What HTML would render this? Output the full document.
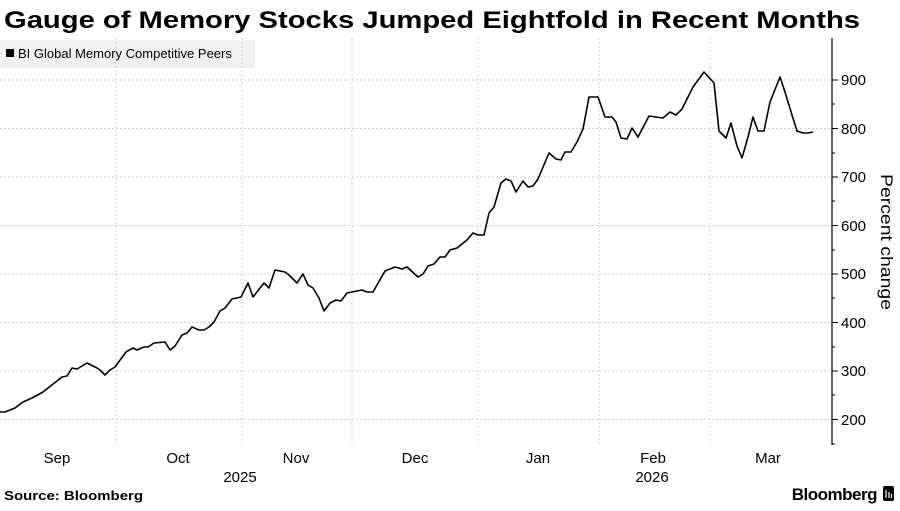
<!DOCTYPE html>
<html><head><meta charset="utf-8"><style>
body{margin:0;width:900px;height:506px;background:#fff;overflow:hidden;font-family:"Liberation Sans",sans-serif}
</style></head><body>
<svg width="900" height="506" xmlns="http://www.w3.org/2000/svg" font-family="Liberation Sans, sans-serif">
<text x="4" y="28" font-size="24" font-weight="bold" fill="#000" textLength="856" lengthAdjust="spacingAndGlyphs">Gauge of Memory Stocks Jumped Eightfold in Recent Months</text>
<rect x="0" y="40" width="255" height="28" fill="#f0f0f0"/>
<rect x="6" y="49" width="8" height="8" fill="#000"/>
<text x="18" y="58" font-size="13" fill="#000">BI Global Memory Competitive Peers</text>
<g stroke="#ccc" stroke-dasharray="2,2" stroke-width="1">
<line x1="0" y1="80" x2="832" y2="80"/><line x1="0" y1="128.5" x2="832" y2="128.5"/>
<line x1="0" y1="177" x2="832" y2="177"/><line x1="0" y1="225.5" x2="832" y2="225.5"/>
<line x1="0" y1="274" x2="832" y2="274"/><line x1="0" y1="322.5" x2="832" y2="322.5"/>
<line x1="0" y1="371" x2="832" y2="371"/><line x1="0" y1="419.5" x2="832" y2="419.5"/>
<line x1="116" y1="38" x2="116" y2="445"/><line x1="242" y1="38" x2="242" y2="445"/>
<line x1="352" y1="38" x2="352" y2="445"/><line x1="478" y1="38" x2="478" y2="445"/>
<line x1="599" y1="38" x2="599" y2="445"/><line x1="710" y1="38" x2="710" y2="445"/>
</g>
<line x1="832" y1="38" x2="832" y2="445" stroke="#000" stroke-width="1.2"/>
<g stroke="#000" stroke-width="1">
<line x1="832" y1="80" x2="838" y2="80"/><line x1="832" y1="128.5" x2="838" y2="128.5"/><line x1="832" y1="177" x2="838" y2="177"/><line x1="832" y1="225.5" x2="838" y2="225.5"/><line x1="832" y1="274" x2="838" y2="274"/><line x1="832" y1="322.5" x2="838" y2="322.5"/><line x1="832" y1="371" x2="838" y2="371"/><line x1="832" y1="419.5" x2="838" y2="419.5"/>
<line x1="832" y1="104" x2="835" y2="104"/><line x1="832" y1="153" x2="835" y2="153"/><line x1="832" y1="201" x2="835" y2="201"/><line x1="832" y1="250" x2="835" y2="250"/><line x1="832" y1="298" x2="835" y2="298"/><line x1="832" y1="347" x2="835" y2="347"/><line x1="832" y1="395" x2="835" y2="395"/><line x1="832" y1="444" x2="835" y2="444"/>
</g>
<g font-size="15" fill="#000">
<text x="841" y="85">900</text><text x="841" y="134">800</text><text x="841" y="182">700</text><text x="841" y="231">600</text><text x="841" y="279">500</text><text x="841" y="328">400</text><text x="841" y="376">300</text><text x="841" y="425">200</text>
</g>
<text transform="translate(881,174) rotate(90)" font-size="17" fill="#000" textLength="136" lengthAdjust="spacingAndGlyphs">Percent change</text>
<polyline fill="none" stroke="#000" stroke-width="1.6" stroke-linejoin="round" points="0,412 5,412 15,408 23,402 32,398 43,392 62,377 67,376 72,368 77,369 87,363 97,368 100,370 105,375 110,370 115,367 126,352 133,348 137,350 144,347 148,347 154,343 165,342 170,350 175,346 182,335 187,333 192,327 199,330 204,330 209,327 214,322 220,311 225,308 232,299 241,297 248,283 253,297 264,283 269,288 275,270 285,272 289,275 297,283 303,274 308,285 313,288 319,298 324,311 330,303 336,300 341,301 347,293 362,290 367,292 373,292 385,271 395,267 402,269 407,267 418,277 423,274 428,266 434,264 440,257 445,257 450,250 457,248 467,240 473,233 478,235 484,235 489,213 494,207 501,183 506,179 511,181 516,192 523,181 528,187 533,186 538,179 549,153 556,159 561,160 565,152 571,152 577,142 583,129 589,97 598,97 605,117 612,117 616,122 621,138 627,139 632,128 638,137 649,116 663,118 670,112 676,115 682,109 693,87 704,72 714,83 719,131 726,138 731,123 737,146 742,158 748,137 753,117 758,131 764,131 770,102 776,87 780,77 785,92 792,115 797,131 803,133 808,133 813,132"/>
<g font-size="15" fill="#000" text-anchor="middle">
<text x="57" y="463">Sep</text><text x="178" y="463">Oct</text><text x="296" y="463">Nov</text><text x="415" y="463">Dec</text><text x="538" y="463">Jan</text><text x="653" y="463">Feb</text><text x="768" y="463">Mar</text>
<text x="240" y="482">2025</text><text x="652" y="482">2026</text>
</g>
<text x="4" y="500" font-size="13" font-weight="bold" fill="#000" textLength="139" lengthAdjust="spacingAndGlyphs">Source: Bloomberg</text>
<text x="877" y="500" font-size="17" font-weight="bold" text-anchor="end" fill="#000" letter-spacing="-0.5">Bloomberg</text>
<rect x="883" y="486" width="11" height="15" rx="2" fill="#000"/>
<g stroke="#fff" stroke-width="1.2"><line x1="886" y1="490" x2="886" y2="498"/><line x1="889" y1="492" x2="889" y2="498"/><line x1="891.5" y1="494" x2="891.5" y2="498"/></g>
</svg>
</body></html>
